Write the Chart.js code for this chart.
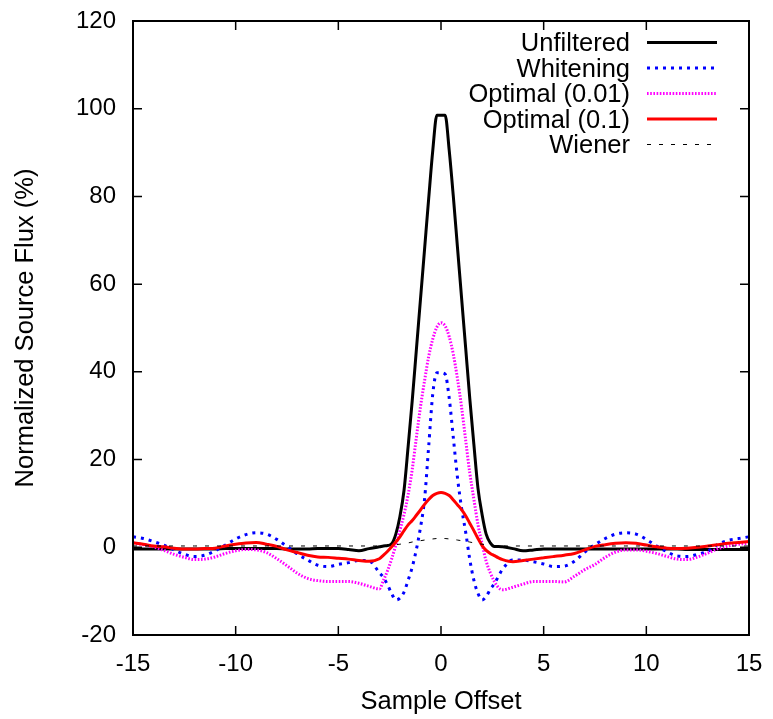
<!DOCTYPE html>
<html>
<head>
<meta charset="utf-8">
<title>Normalized Source Flux</title>
<script src="https://cdn.jsdelivr.net/npm/chart.js@4/dist/chart.umd.min.js"></script>
<style>
  html, body { margin: 0; padding: 0; background: #fff; }
  #wrap { width: 773px; height: 719px; position: relative; }
</style>
</head>
<body>
<div id="wrap"><canvas id="fluxChart"></canvas></div>
<script>
// --- DATA ---
const offsets = [
    -15, -14.5, -14, -13.5, -13, -12.5, -12, -11.5, -11, -10.5, -10, -9.5, -9, -8.5, -8, -7.5, -7, -6.5, -6, -5.5, -5, -4.5, -4, -3.5,
    -3, -2.8, -2.6, -2.4, -2.2, -2, -1.8, -1.6, -1.4, -1.2, -1, -0.8, -0.6, -0.4, -0.2, 0, 0.2, 0.4, 0.6, 0.8, 1, 1.2, 1.4, 1.6, 1.8, 2, 2.2, 2.4, 2.6, 2.8, 3,
    3.5, 4, 4.5, 5, 5.5, 6, 6.5, 7, 7.5, 8, 8.5, 9, 9.5, 10, 10.5, 11, 11.5, 12, 12.5, 13, 13.5, 14, 14.5, 15
];

const unfiltered = [
    -0.4, -0.4, -0.4, -0.4, -0.4, -0.4, -0.4, -0.4, -0.4, -0.3, -0.3, -0.3, -0.3, -0.3, -0.3, -0.4, -0.4, -0.4, -0.3, -0.3, -0.3, -0.5, -0.8, -0.3,
    0.1, 0.3, 0.4, 0.8, 3, 7, 13, 23, 33.5, 45, 56.5, 68, 79.5, 90.5, 98.5, 98.5, 98.5, 90.5, 80, 68.5, 57, 45.5, 34, 23.5, 13.5, 7.5, 3, 1, 0.2, 0.2, 0.1,
    -0.3, -0.8, -0.6, -0.4, -0.4, -0.4, -0.4, -0.4, -0.4, -0.4, -0.4, -0.4, -0.4, -0.4, -0.4, -0.4, -0.4, -0.5, -0.5, -0.5, -0.5, -0.5, -0.5, -0.5
];

const whitening = [
    2.4, 2.0, 1.3, 0.5, -0.6, -1.6, -2.1, -1.8, -0.8, 0.5, 1.9, 2.9, 3.3, 3.0, 1.8, 0.2, -1.5, -2.9, -4.1, -4.4, -3.9, -3.5, -3.0, -3.1,
    -5.8, -6.9, -8.6, -10.6, -12, -11.6, -10.2, -7.5, -4.5, -0.5, 4.5, 11, 23, 35, 39.8, 39.8, 39.5, 34, 25, 16, 9, 3.5, -2.7, -7.5, -10.5, -12, -11.2, -9.6, -8.3, -6.6, -5.0,
    -2.9, -2.9, -3.3, -3.8, -4.4, -4.3, -3.2, -1.1, 0.6, 2.0, 3.0, 3.3, 3.0, 1.8, 0.3, -1.0, -2.0, -2.1, -1.6, -0.9, 0.7, 1.6, 2.0, 2.4
];

const optimal001 = [
    1.0, 0.6, 0.1, -0.7, -1.6, -2.3, -2.8, -2.7, -2.2, -1.4, -0.8, -0.5, -0.6, -1.2, -2.6, -4.2, -5.9, -7.1, -7.6, -7.8, -7.8, -7.8, -8.2, -8.9,
    -9.5, -7.5, -5.3, -2.6, 0.5, 3.9, 7.5, 12, 17.8, 25, 32, 38, 43.5, 47.5, 50.2, 51.2, 50.5, 48, 44, 38.5, 32, 24.5, 17, 11, 5.2, 0.8, -3.2, -5.8, -7.8, -9.2, -9.7,
    -9.1, -8.4, -7.8, -7.8, -7.8, -7.9, -6.6, -5.1, -3.9, -2.3, -1.1, -0.6, -0.6, -0.9, -1.4, -2.1, -2.7, -2.8, -2.2, -1.3, -0.3, 0.3, 0.7, 0.9
];

const optimal01 = [
    1.05, 0.7, 0.3, 0.1, -0.2, -0.4, -0.4, -0.3, -0.2, 0.3, 0.7, 1.0, 1.1, 0.7, 0.2, -0.6, -1.2, -1.8, -2.2, -2.3, -2.5, -2.7, -3.0, -3.2,
    -2.6, -1.8, -0.9, 0.1, 1.2, 2.4, 3.8, 5.1, 6.1, 7.3, 8.5, 9.8, 10.9, 11.8, 12.3, 12.5, 12.3, 11.8, 10.8, 9.7, 8.6, 7.2, 5.5, 3.8, 2.0, 0.4, -0.7, -1.4, -1.9, -2.4, -2.8,
    -3.3, -3.0, -2.7, -2.4, -2.1, -1.8, -1.4, -0.6, 0.2, 0.6, 0.9, 1.05, 0.9, 0.5, 0.1, -0.2, -0.3, -0.2, 0, 0.3, 0.6, 0.9, 1.1, 1.3
];

const wiener = [
    0.3, 0.3, 0.3, 0.3, 0.3, 0.3, 0.3, 0.3, 0.3, 0.3, 0.3, 0.3, 0.3, 0.3, 0.3, 0.3, 0.3, 0.3, 0.3, 0.3, 0.3, 0.3, 0.3, 0.3,
    0.3, 0.35, 0.4, 0.5, 0.6, 0.7, 0.85, 1.0, 1.2, 1.35, 1.5, 1.65, 1.8, 1.9, 2.0, 2.0, 2.0, 1.9, 1.8, 1.65, 1.5, 1.35, 1.2, 1.0, 0.85, 0.7, 0.6, 0.5, 0.4, 0.35, 0.3,
    0.3, 0.3, 0.3, 0.3, 0.3, 0.3, 0.3, 0.3, 0.3, 0.3, 0.3, 0.3, 0.3, 0.3, 0.3, 0.3, 0.3, 0.3, 0.3, 0.3, 0.3, 0.3, 0.3, 0.3
];

const seriesLabels = ['Unfiltered', 'Whitening', 'Optimal (0.01)', 'Optimal (0.1)', 'Wiener'];
const xTicks = [-15, -10, -5, 0, 5, 10, 15];
const yTicks = [-20, 0, 20, 40, 60, 80, 100, 120];

const FONT = '"Liberation Sans", Arial, Helvetica, sans-serif';

// --- HELPERS ---
const toPoints = (values) => offsets.map((x, i) => ({ x: x, y: values[i] }));

const makeSet = (label, values, color, width, dash, order) => ({
    label: label,
    data: toPoints(values),
    borderColor: color,
    backgroundColor: color,
    borderWidth: width,
    borderDash: dash,
    borderCapStyle: 'butt',
    pointRadius: 0,
    fill: false,
    cubicInterpolationMode: 'monotone',
    order: order
});

// Box frame with inward tick marks on all four sides
const framePlugin = {
    id: 'frame',
    afterDatasetsDraw(chart) {
        const { ctx, chartArea: { left, right, top, bottom }, scales: { x, y } } = chart;
        ctx.save();
        ctx.strokeStyle = '#000';
        ctx.lineWidth = 1.5;
        ctx.beginPath();
        xTicks.forEach(v => {
            const px = x.getPixelForValue(v);
            ctx.moveTo(px, bottom); ctx.lineTo(px, bottom - 9);
            ctx.moveTo(px, top); ctx.lineTo(px, top + 9);
        });
        yTicks.forEach(v => {
            const py = y.getPixelForValue(v);
            ctx.moveTo(left, py); ctx.lineTo(left + 9, py);
            ctx.moveTo(right, py); ctx.lineTo(right - 9, py);
        });
        ctx.stroke();
        ctx.lineWidth = 2;
        ctx.strokeRect(left, top, right - left, bottom - top);
        ctx.restore();
    }
};

// Key in the top-right corner: right-aligned text followed by the line sample
const keyPlugin = {
    id: 'key',
    afterDraw(chart) {
        const { ctx, chartArea: { right, top } } = chart;
        const textRight = right - 119;
        const lineStart = right - 102;
        const lineEnd = right - 32;
        ctx.save();
        ctx.font = '25.5px ' + FONT;
        ctx.fillStyle = '#000';
        ctx.textAlign = 'right';
        ctx.textBaseline = 'alphabetic';
        chart.data.datasets.forEach((ds, i) => {
            const base = top + 30 + i * 25.5;
            ctx.fillText(ds.label, textRight, base);
            ctx.beginPath();
            ctx.strokeStyle = ds.borderColor;
            ctx.lineWidth = ds.borderWidth;
            ctx.lineCap = 'butt';
            ctx.setLineDash(ds.borderDash || []);
            ctx.moveTo(lineStart, base - 8.5);
            ctx.lineTo(lineEnd, base - 8.5);
            ctx.stroke();
        });
        ctx.restore();
    }
};

Chart.defaults.font.family = FONT;
Chart.defaults.font.size = 24;
Chart.defaults.color = '#000';

const ctx = document.getElementById('fluxChart').getContext('2d');
new Chart(ctx, {
    type: 'line',
    data: {
        datasets: [
            makeSet(seriesLabels[0], unfiltered, '#000000', 3, [], 5),
            makeSet(seriesLabels[1], whitening, '#0000ff', 3, [3, 5], 4),
            makeSet(seriesLabels[2], optimal001, '#ff00ff', 3, [1.6, 1.6], 3),
            makeSet(seriesLabels[3], optimal01, '#ff0000', 3, [], 2),
            makeSet(seriesLabels[4], wiener, '#000000', 1, [4, 8], 1)
        ]
    },
    options: {
        responsive: true,
        maintainAspectRatio: false,
        animation: false,
        layout: { padding: { top: 21, right: 24, bottom: 0, left: 0 } },
        plugins: {
            legend: { display: false },
            tooltip: { enabled: false }
        },
        scales: {
            x: {
                type: 'linear',
                min: -15,
                max: 15,
                afterFit: (scale) => {
                    scale.height = 84;
                    scale.paddingLeft = 0;
                    scale.paddingRight = 0;
                },
                afterBuildTicks: (scale) => { scale.ticks = xTicks.map(v => ({ value: v })); },
                ticks: { padding: 15, maxRotation: 0, font: { size: 24 } },
                grid: { display: false, drawTicks: false },
                border: { display: false },
                title: { display: true, text: 'Sample Offset', font: { size: 25.5 }, padding: { top: 0, bottom: 2 } }
            },
            y: {
                type: 'linear',
                min: -20,
                max: 120,
                afterFit: (scale) => {
                    scale.width = 133;
                    scale.paddingTop = 0;
                    scale.paddingBottom = 0;
                },
                afterBuildTicks: (scale) => { scale.ticks = yTicks.map(v => ({ value: v })); },
                ticks: { padding: 17, font: { size: 24 } },
                grid: { display: false, drawTicks: false },
                border: { display: false },
                title: { display: true, text: 'Normalized Source Flux (%)', font: { size: 25.5 }, padding: { top: 11, bottom: 0 } }
            }
        }
    },
    plugins: [framePlugin, keyPlugin]
});
</script>
</body>
</html>
